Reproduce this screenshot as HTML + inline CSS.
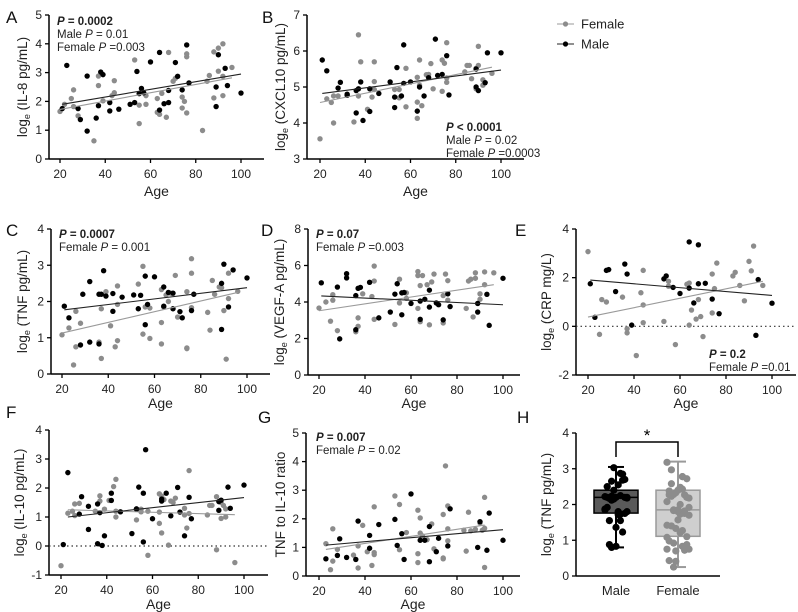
<!DOCTYPE html>
<html><head><meta charset="utf-8">
<style>
html,body{margin:0;padding:0;background:#fff;}
svg{display:block;font-family:"Liberation Sans",Arial,sans-serif;}
</style></head>
<body>
<svg id="fig" width="798" height="612" viewBox="0 0 798 612" xmlns="http://www.w3.org/2000/svg">
<g>
  <g>
    <line x1="557" y1="24" x2="574" y2="24" stroke="#999" stroke-width="1"/>
    <circle cx="565.5" cy="24" r="2.6" fill="#8c8c8c"/>
    <text x="581" y="28.5" font-size="13" fill="#222">Female</text>
  </g>
  <g>
    <line x1="557" y1="44" x2="574" y2="44" stroke="#222" stroke-width="1"/>
    <circle cx="565.5" cy="44" r="2.6" fill="#000"/>
    <text x="581" y="48.5" font-size="13" fill="#222">Male</text>
  </g>
</g>
</svg>
<script>
// ---------- DATA ----------
const ageMA=[21,23,28,29,32,32,36,37,38,39,42,42,46,51,53,54,55,56,57,60,64,64,66,68,68,71,72,74,76,77,89,89,90,93,94,100];
const valMA=[1.75,3.25,1.75,1.37,2.88,0.97,1.42,1.85,3.02,2.93,1.67,1.96,1.73,1.9,1.96,3.04,2.27,2.45,2.3,3.37,3.7,1.7,1.92,2.38,1.96,3.35,2.87,2.4,3.96,2.64,2.5,1.82,3.62,3.15,2.55,2.29];
const ageFA=[20,22,25,26,26,28,35,37,37,39,43,44,44,53,55,55,58,58,63,63,64,65,67,68,70,71,74,74,75,76,76,76,83,85,86,88,88,90,90,92,92,92,96];
const valFA=[1.65,1.9,2.1,2.4,1.82,1.5,0.63,2.55,2.88,2.02,2.2,2.72,2.3,3.44,1.23,1.87,2.2,1.9,2.1,1.62,1.55,2.28,1.45,3.7,2.7,2.8,2.15,1.77,2.0,3.65,3.55,1.6,0.99,2.7,2.9,3.72,2.12,3.85,3.05,4.0,2.2,2.87,3.18];
const fitMA=[[21,1.9],[100,2.95]];
const fitFA=[[20,1.72],[96,2.82]];

const ageMB=[21,23,28,29,32,32,36,36,37,38,39,42,42,46,51,53,53,54,56,57,57,60,63,64,66,68,71,72,74,76,77,89,89,90,93,94,100];
const valMB=[5.75,5.45,4.97,5.13,4.8,4.77,4.9,4.28,4.95,5.14,4.07,4.95,4.32,4.82,5.14,4.43,4.72,5.54,4.75,5.1,6.17,5.14,4.33,5.0,4.75,5.26,6.33,5.32,5.35,5.87,4.78,5.0,5.5,4.9,5.12,5.95,5.95];
const ageFB=[20,23,25,26,26,28,35,37,37,38,41,43,44,44,44,53,55,55,58,58,63,63,63,64,64,65,67,68,69,70,74,74,75,76,76,76,84,85,86,87,89,89,90,90,92,92,96];
const valFB=[3.56,4.67,4.57,4.0,4.75,4.75,4.03,6.45,4.75,5.7,4.38,4.72,5.7,5.15,4.93,4.93,4.7,4.93,5.52,4.45,5.27,4.13,4.58,5.05,5.75,4.48,5.34,5.35,5.65,4.95,5.75,4.88,5.66,6.23,5.13,5.25,5.42,5.6,5.6,5.23,5.52,4.95,5.6,6.13,5.2,5.05,5.38];
const fitMB=[[21,4.82],[100,5.47]];
const fitFB=[[20,4.57],[96,5.55]];

const ageMC=[21,23,28,29,32,32,36,36,37,38,39,42,42,46,51,53,54,56,56,57,60,64,64,66,68,68,71,72,76,77,89,89,90,92,94,100];
const valMC=[1.87,1.55,0.8,2.2,2.55,0.88,2.2,0.83,2.2,2.85,2.15,2.22,1.73,2.12,2.18,1.8,2.17,2.7,1.36,1.92,2.68,2.4,1.87,2.25,2.23,1.8,1.72,1.55,1.75,2.2,2.5,1.23,3.03,1.85,2.87,2.65];
const ageFC=[20,23,25,26,26,28,36,37,37,39,41,43,44,44,44,53,55,55,56,58,58,63,63,63,64,65,66,67,69,70,74,74,74,76,76,76,83,84,85,86,88,89,90,91,92,92,96];
const valFC=[1.08,1.27,0.25,0.75,1.73,1.4,0.88,1.8,0.43,2.27,1.33,0.75,2.43,0.92,1.92,2.48,2.97,1.1,1.85,0.98,1.82,2.33,1.42,0.83,1.85,2.18,2.0,2.23,2.72,1.57,2.27,0.72,0.7,3.18,2.78,1.83,1.7,1.21,2.58,2.2,2.4,2.38,1.75,0.41,2.08,2.78,2.28];
const fitMC=[[21,1.77],[100,2.38]];
const fitFC=[[20,1.13],[96,2.25]];

const ageMD=[21,28,29,32,32,36,36,37,38,42,46,51,53,54,56,56,57,60,64,64,66,68,68,71,72,74,76,77,89,89,93,94,100];
const valMD=[5.05,4.82,1.98,5.55,5.32,4.35,2.48,4.75,4.8,5.08,3.13,3.45,4.43,5.0,3.3,4.5,4.52,3.92,3.05,4.05,4.15,4.65,3.72,3.95,3.85,3.02,4.45,3.75,3.92,3.45,4.42,2.72,5.3];
const ageFD=[20,23,25,26,26,28,36,37,37,39,43,44,44,44,53,55,55,58,58,63,63,63,64,64,65,67,68,69,70,74,74,75,76,76,84,85,86,87,88,88,90,90,92,92,96];
const valFD=[3.67,4.0,2.95,4.4,4.1,2.43,2.37,2.67,3.13,4.45,4.3,5.97,5.15,3.05,2.77,5.25,3.95,4.5,4.2,5.67,5.45,3.65,2.92,4.9,5.45,4.95,2.75,5.1,5.53,4.35,2.85,5.53,5.17,4.1,3.65,5.15,5.25,3.18,5.6,5.3,4.45,4.15,5.65,4.95,5.6];
const fitMD=[[21,4.33],[100,3.85]];
const fitFD=[[20,3.52],[96,4.95]];

const ageME=[21,23,28,29,32,36,37,39,53,54,57,60,64,64,66,68,68,71,74,77,93,94,100];
const valME=[1.75,0.37,2.3,2.33,1.43,2.56,2.15,0.05,1.95,2.07,1.6,1.35,3.47,1.57,0.96,3.35,1.75,1.77,1.12,0.52,-0.37,1.92,0.95];
const ageFE=[20,25,26,28,35,37,37,41,43,44,44,44,53,55,55,58,63,64,64,65,67,68,69,70,74,74,75,76,83,84,86,88,90,91,92,96];
const valFE=[3.07,-0.33,1.1,1.0,1.2,-0.1,-0.27,-1.2,1.38,2.3,0.88,0.15,0.2,1.85,1.65,-0.75,1.73,1.78,0.05,0.67,0.3,1.1,0.4,-0.42,2.15,0.55,1.55,2.6,2.07,2.22,1.68,1.05,2.67,2.28,3.3,1.68];
const fitME=[[21,1.9],[100,1.27]];
const fitFE=[[20,0.38],[96,1.85]];

const ageMF=[21,23,28,29,32,32,36,36,37,38,39,42,42,46,51,53,53,54,56,56,57,60,64,64,66,68,71,72,74,76,77,89,89,90,93,94,100];
const valMF=[0.05,2.53,1.1,1.7,1.37,0.57,1.45,0.08,1.15,0.02,0.35,1.82,1.57,1.18,0.43,1.28,1.27,2.03,1.82,0.14,3.32,0.94,1.62,1.55,1.82,1.04,2.02,1.17,0.35,1.68,0.94,1.53,1.23,1.58,2.03,1.3,2.1];
const ageFF=[20,23,25,26,26,28,35,37,37,39,41,43,44,44,44,53,55,55,58,58,63,63,63,64,64,65,67,68,69,70,74,74,75,76,76,84,85,86,88,88,90,90,91,92,92,96];
const valFF=[-0.68,1.13,1.2,1.05,1.45,1.47,1.2,1.73,1.55,1.27,1.57,2.05,2.3,1.2,1.0,0.9,1.18,1.27,-0.32,1.2,1.8,1.17,0.78,0.45,1.72,1.6,0.03,1.55,1.5,1.65,1.3,1.07,0.62,2.6,1.12,1.07,1.4,1.4,1.7,-0.13,1.5,0.95,1.4,1.0,1.28,-0.57];
const fitMF=[[23,1.0],[100,1.67]];
const fitFF=[[23,1.25],[96,1.08]];

const ageMG=[23,28,29,32,36,37,42,42,46,53,54,56,57,60,64,66,68,68,71,72,76,77,89,90,93,94,100];
const valMG=[0.6,0.72,1.3,0.65,0.58,1.92,1.42,0.97,1.8,1.98,1.07,1.48,0.58,2.87,1.25,1.25,1.73,0.5,0.85,1.32,1.05,2.35,1.0,1.9,0.9,2.2,1.25];
const ageFG=[23,25,26,26,28,35,37,37,39,41,43,44,44,44,53,55,55,58,63,63,63,64,64,65,67,69,70,74,74,74,75,76,76,76,83,84,85,86,88,90,91,92,92,92];
const valFG=[1.13,0.22,1.65,0.52,0.93,0.73,0.28,1.05,1.77,0.85,0.37,2.42,0.82,0.75,2.8,2.5,0.92,1.52,2.3,0.78,0.47,2.03,1.5,1.4,1.27,1.82,0.95,2.15,0.63,0.6,3.85,2.45,1.65,1.23,1.6,0.87,2.23,1.58,1.63,1.85,1.6,2.75,0.3,1.67];
const fitMG=[[23,1.08],[100,1.62]];
const fitFG=[[23,0.93],[92,1.78]];

// Panel H box-plot stats: [min, q1, median, q3, max]
const boxCategories=["Male","Female"];
const boxMale=[0.8,1.76,2.2,2.4,3.05];
const boxFemale=[0.25,1.11,1.85,2.4,3.2];

// ---------- DRAWING ----------
const NS="http://www.w3.org/2000/svg";
const svg=document.getElementById('fig');
function el(tag,attrs,parent,txt){const e=document.createElementNS(NS,tag);for(const k in attrs)e.setAttribute(k,attrs[k]);if(txt!==undefined)e.textContent=txt;(parent||svg).appendChild(e);return e;}

function panel(cfg){
  const g=el('g',{});
  
  
  const xs=a=>cfg.x20+(a-20)*(cfg.x100-cfg.x20)/80;
  const ys=v=>cfg.ybot-(v-cfg.ymin)*(cfg.ybot-cfg.ytop)/(cfg.ymax-cfg.ymin);
  const lab=el('text',{x:cfg.lx,y:cfg.ly,'font-size':17,fill:'#111'},g,cfg.id);
  
  
  // y axis
  const ya=el('g',{},g);
  
  
  el('line',{x1:cfg.ax,y1:cfg.ytop,x2:cfg.ax,y2:cfg.ybot,stroke:'#000','stroke-width':1.5},ya);
  for(let v=cfg.ymin;v<=cfg.ymax+1e-9;v+=cfg.step){
    el('line',{x1:cfg.ax-4,y1:ys(v),x2:cfg.ax,y2:ys(v),stroke:'#000','stroke-width':1.3},ya);
    const t=el('text',{x:cfg.ax-7,y:ys(v)+4,'font-size':12,'text-anchor':'end',fill:'#222'},ya,String(v));
    
    
  }
  // x axis
  const xa=el('g',{},g);
  
  
  el('line',{x1:cfg.ax,y1:cfg.ybot,x2:cfg.xend,y2:cfg.ybot,stroke:'#000','stroke-width':1.5},xa);
  for(let a=20;a<=100;a+=20){
    el('line',{x1:xs(a),y1:cfg.ybot,x2:xs(a),y2:cfg.ybot+4,stroke:'#000','stroke-width':1.3},xa);
    const t=el('text',{x:xs(a),y:cfg.ybot+19,'font-size':12,'text-anchor':'middle',fill:'#222'},xa,String(a));
    
    
  }
  const xt=el('text',{x:(cfg.ax+cfg.xend)/2,y:cfg.agey,'font-size':14,'text-anchor':'middle',fill:'#222'},g,'Age');
  
  
  const yt=el('text',{x:0,y:0,'font-size':13.5,'text-anchor':'middle',fill:'#222',transform:`translate(${cfg.tx},${(cfg.ytop+cfg.ybot)/2}) rotate(-90)`},g);
  
  
  yt.innerHTML=cfg.ytitle;
  if(cfg.zero){
    const z=el('line',{x1:cfg.ax,y1:ys(0),x2:cfg.xend,y2:ys(0),stroke:'#333','stroke-width':1.2,'stroke-dasharray':'1.5,3'},g);
    
    
  }
  // points
  cfg.ageF.forEach((a,i)=>{
    const c=el('circle',{cx:xs(a),cy:ys(cfg.valF[i]),r:2.7,fill:'#8c8c8c'},g);
    
    
  });
  cfg.ageM.forEach((a,i)=>{
    const c=el('circle',{cx:xs(a),cy:ys(cfg.valM[i]),r:2.7,fill:'#000'},g);
    
    
  });
  const lf=el('line',{x1:xs(cfg.fitF[0][0]),y1:ys(cfg.fitF[0][1]),x2:xs(cfg.fitF[1][0]),y2:ys(cfg.fitF[1][1]),stroke:'#9a9a9a','stroke-width':1.1},g);
  
  
  const lm=el('line',{x1:xs(cfg.fitM[0][0]),y1:ys(cfg.fitM[0][1]),x2:xs(cfg.fitM[1][0]),y2:ys(cfg.fitM[1][1]),stroke:'#222','stroke-width':1.1},g);
  
  
  // annotation
  const an=el('g',{},g);
  
  
  cfg.notes.forEach((n,i)=>{
    const t=el('text',{x:cfg.nx,y:cfg.ny+i*13,'font-size':11.5,fill:'#222','font-weight':i===0?'bold':'normal'},an);
    t.innerHTML=n;
  });
}
const P='<tspan font-style="italic">P</tspan>';
panel({id:'A',lx:6,ly:23,ax:49,xend:264,x20:60,x100:241,ytop:15,ybot:159,ymin:0,ymax:5,step:1,agey:196,tx:27,
  ytitle:'log<tspan font-size="9" dy="3">e</tspan><tspan dy="-3"> (IL-8 pg/mL)</tspan>',
  ageM:ageMA,valM:valMA,ageF:ageFA,valF:valFA,fitM:fitMA,fitF:fitFA,nx:57,ny:25,
  notes:[P+' = 0.0002','Male '+P+' = 0.01','Female '+P+' =0.003']});
panel({id:'B',lx:262,ly:23,ax:307,xend:524,x20:320,x100:501,ytop:15,ybot:159,ymin:3,ymax:7,step:1,agey:196,tx:285,
  ytitle:'log<tspan font-size="9" dy="3">e</tspan><tspan dy="-3"> (CXCL10 pg/mL)</tspan>',
  ageM:ageMB,valM:valMB,ageF:ageFB,valF:valFB,fitM:fitMB,fitF:fitFB,nx:446,ny:131,
  notes:[P+' &lt; 0.0001','Male '+P+' = 0.02','Female '+P+' =0.0003']});
panel({id:'C',lx:6,ly:236,ax:51,xend:270,x20:62,x100:247,ytop:229,ybot:374,ymin:0,ymax:4,step:1,agey:408,tx:27,
  ytitle:'log<tspan font-size="9" dy="3">e</tspan><tspan dy="-3"> (TNF pg/mL)</tspan>',
  ageM:ageMC,valM:valMC,ageF:ageFC,valF:valFC,fitM:fitMC,fitF:fitFC,nx:59,ny:238,
  notes:[P+' = 0.0007','Female '+P+' = 0.001']});
panel({id:'D',lx:261,ly:236,ax:308,xend:520,x20:319,x100:503,ytop:229,ybot:375,ymin:0,ymax:8,step:2,agey:408,tx:284,
  ytitle:'log<tspan font-size="9" dy="3">e</tspan><tspan dy="-3"> (VEGF-A pg/mL)</tspan>',
  ageM:ageMD,valM:valMD,ageF:ageFD,valF:valFD,fitM:fitMD,fitF:fitFD,nx:316,ny:238,
  notes:[P+' = 0.07','Female '+P+' =0.003']});
panel({id:'E',lx:515,ly:236,ax:576,xend:796,x20:588,x100:772,ytop:229,ybot:375,ymin:-2,ymax:4,step:2,agey:408,tx:551,zero:true,
  ytitle:'log<tspan font-size="9" dy="3">e</tspan><tspan dy="-3"> (CRP mg/L)</tspan>',
  ageM:ageME,valM:valME,ageF:ageFE,valF:valFE,fitM:fitME,fitF:fitFE,nx:709,ny:358,
  notes:[P+' = 0.2','Female '+P+' =0.01']});
panel({id:'F',lx:6,ly:418,ax:49,xend:268,x20:61,x100:244,ytop:430,ybot:575,ymin:-1,ymax:4,step:1,agey:609,tx:24,zero:true,
  ytitle:'log<tspan font-size="9" dy="3">e</tspan><tspan dy="-3"> (IL-10 pg/mL)</tspan>',
  ageM:ageMF,valM:valMF,ageF:ageFF,valF:valFF,fitM:fitMF,fitF:fitFF,nx:60,ny:-100,
  notes:[]});
panel({id:'G',lx:258,ly:423,ax:306,xend:520,x20:319,x100:503,ytop:433,ybot:576,ymin:0,ymax:5,step:1,agey:609,tx:285,
  ytitle:'TNF to IL-10 ratio',
  ageM:ageMG,valM:valMG,ageF:ageFG,valF:valFG,fitM:fitMG,fitF:fitFG,nx:316,ny:441,
  notes:[P+' = 0.007','Female '+P+' = 0.02']});

// Panel H
(function(){
  const g=el('g',{});
  
  
  const ax=576,xend=720,ytop=433,ybot=576,ymin=0,ymax=4;
  const ys=v=>ybot-(v-ymin)*(ybot-ytop)/(ymax-ymin);
  const cx=[616,678];
  const lab=el('text',{x:517,ly:0,y:423,'font-size':17,fill:'#111'},g,'H');
  
  
  const yt=el('text',{x:0,y:0,'font-size':13.5,'text-anchor':'middle',fill:'#222',transform:`translate(551,${(ytop+ybot)/2}) rotate(-90)`},g);
  
  
  yt.innerHTML='log<tspan font-size="9" dy="3">e</tspan><tspan dy="-3"> (TNF pg/mL)</tspan>';
  const stats=[boxMale,boxFemale];
  const fills=['#5a5a5a','#cfcfcf'];
  const strokes=['#000','#9a9a9a'];
  const dotc=['#000','#8c8c8c'];
  const vals=[valMC,valFC];
  stats.forEach((s,k)=>{
    const bg=el('g',{},g);
    
    
    const w=22;
    el('line',{x1:cx[k],y1:ys(s[0]),x2:cx[k],y2:ys(s[4]),stroke:strokes[k],'stroke-width':2},bg);
    el('line',{x1:cx[k]-8,y1:ys(s[0]),x2:cx[k]+8,y2:ys(s[0]),stroke:strokes[k],'stroke-width':2},bg);
    el('line',{x1:cx[k]-8,y1:ys(s[4]),x2:cx[k]+8,y2:ys(s[4]),stroke:strokes[k],'stroke-width':2},bg);
    el('rect',{x:cx[k]-w,y:ys(s[3]),width:2*w,height:ys(s[1])-ys(s[3]),fill:fills[k],stroke:strokes[k],'stroke-width':1.5},bg);
    el('line',{x1:cx[k]-w,y1:ys(s[2]),x2:cx[k]+w,y2:ys(s[2]),stroke:strokes[k],'stroke-width':1.5},bg);
    vals[k].forEach((v,i)=>{
      const off=((i*7)%11-5)*2.2;
      const c=el('circle',{cx:cx[k]+off,cy:ys(v),r:3.6,fill:dotc[k]},bg);
      
      
    });
    const t=el('text',{x:cx[k],y:ybot+19,'font-size':13,'text-anchor':'middle',fill:'#222'},g,boxCategories[k]);
    
    
  });
  el('line',{x1:ax,y1:ytop,x2:ax,y2:ybot,stroke:'#000','stroke-width':1.5},g);
  el('line',{x1:ax,y1:ybot,x2:xend,y2:ybot,stroke:'#000','stroke-width':1.5},g);
  for(let v=0;v<=4;v++){
    el('line',{x1:ax-4,y1:ys(v),x2:ax,y2:ys(v),stroke:'#000','stroke-width':1.3},g);
    const t=el('text',{x:ax-7,y:ys(v)+4,'font-size':12,'text-anchor':'end',fill:'#222'},g,String(v));
    
    
  }
  const br=el('path',{d:`M${cx[0]},457 V442 H${cx[1]} V457`,fill:'none',stroke:'#000','stroke-width':1.5},g);
  
  
  const st=el('text',{x:(cx[0]+cx[1])/2,y:441,'font-size':17,'text-anchor':'middle',fill:'#000'},g,'*');
  
  
})();
</script>
</body></html>
